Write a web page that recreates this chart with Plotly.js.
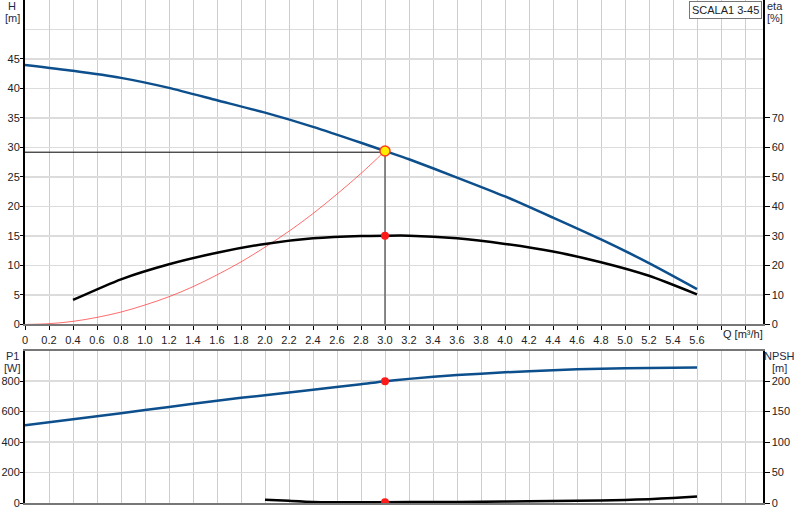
<!DOCTYPE html>
<html>
<head>
<meta charset="utf-8">
<script src="https://cdn.plot.ly/plotly-3.0.1.min.js"></script>
<style>html,body{margin:0;padding:0;background:#fff}#chart{width:800px;height:520px}</style>
</head>
<body>
<div id="chart"></div>
<script>
// ---- data ----
const qTickVals = [0,0.2,0.4,0.6,0.8,1.0,1.2,1.4,1.6,1.8,2.0,2.2,2.4,2.6,2.8,3.0,3.2,3.4,3.6,3.8,4.0,4.2,4.4,4.6,4.8,5.0,5.2,5.4,5.6,5.8,6.0];
const qTickText = ["0","0.2","0.4","0.6","0.8","1.0","1.2","1.4","1.6","1.8","2.0","2.2","2.4","2.6","2.8","3.0","3.2","3.4","3.6","3.8","4.0","4.2","4.4","4.6","4.8","5.0","5.2","5.4","5.6","",""];
const hTickVals = [0,5,10,15,20,25,30,35,40,45];
const etaTickVals = [0,10,20,30,40,50,60,70];
const p1TickVals = [0,200,400,600,800];
const npshTickVals = [0,50,100,150,200];

const qH   = [0,0.4,0.8,1.2,1.6,2.0,2.4,2.8,3.0,3.2,3.6,4.0,4.4,4.8,5.2,5.6];
const headH = [44.0,43.0,41.8,40.1,38.0,35.9,33.5,30.8,29.4,28.0,24.9,21.7,18.1,14.4,10.4,6.0];

const qEta = [0.4,0.8,1.2,1.6,2.0,2.4,2.8,3.0,3.2,3.6,4.0,4.4,4.8,5.2,5.6];
const eta  = [8.3,15.3,20.4,24.3,27.3,29.2,30.0,30.1,30.1,29.2,27.3,24.7,21.1,16.5,10.2];

const qSys = [0,0.2,0.4,0.6,0.8,1.0,1.2,1.4,1.6,1.8,2.0,2.2,2.4,2.6,2.8,3.0];
const hSys = [0,0.13,0.52,1.2,2.1,3.3,4.7,6.4,8.4,10.6,13.1,15.8,18.8,22.1,25.6,29.4];

const qP1 = [0,0.4,0.8,1.2,1.6,2.0,2.4,2.8,3.0,3.2,3.6,4.0,4.4,4.8,5.2,5.6];
const p1  = [510,550,590,630,672,708,743,780,800,815,840,858,872,882,887,889];

const qNpsh = [2.0,2.2,2.4,2.6,2.8,3.0,3.4,3.8,4.2,4.6,5.0,5.2,5.4,5.6];
const npsh  = [5.5,3.5,1.8,1.4,1.3,1.3,1.6,2.0,2.7,3.6,5.0,6.3,8.2,10.7];

const opQ = 3.0, opH = 29.4, opEta = 30.1, opP1 = 800, opNpsh = 1.3;
const pumpName = "SCALA1 3-45";

// ---- styling ----
const blue = "#0c4f8c";
const txt = "#222222";
const lab = "#1e2a44";
const fontFam = "Liberation Sans, Arial, sans-serif";

const traces = [
  {x: qSys, y: hSys, xaxis:"x", yaxis:"y", mode:"lines", line:{color:"rgba(255,60,60,0.75)", width:1, shape:"spline"}},
  {x: [0, opQ], y: [opH-0.2, opH-0.2], xaxis:"x", yaxis:"y", mode:"lines", line:{color:"#000", width:1}},
  {x: [opQ, opQ], y: [opH, 0], xaxis:"x", yaxis:"y", mode:"lines", line:{color:"#666", width:1.5}},
  {x: qH, y: headH, xaxis:"x", yaxis:"y", mode:"lines", line:{color:blue, width:2.5, shape:"spline", smoothing:0.6}},
  {x: qEta, y: eta, xaxis:"x", yaxis:"y2", mode:"lines", line:{color:"#000", width:2.5, shape:"spline", smoothing:0.6}},
  {x: [opQ], y: [opEta], xaxis:"x", yaxis:"y2", mode:"markers", marker:{color:"#ff1a1a", size:8}},
  {x: [opQ], y: [opH], xaxis:"x", yaxis:"y", mode:"markers", marker:{color:"#ffee00", size:10, line:{color:"#ff3b1a", width:1.5}}},
  {x: qP1, y: p1, xaxis:"x2", yaxis:"y3", mode:"lines", line:{color:blue, width:2.5, shape:"spline", smoothing:0.6}},
  {x: qNpsh, y: npsh, xaxis:"x2", yaxis:"y4", mode:"lines", line:{color:"#000", width:2.5, shape:"spline", smoothing:0.6}},
  {x: [opQ], y: [opP1], xaxis:"x2", yaxis:"y3", mode:"markers", marker:{color:"#ff1a1a", size:8}},
  {x: [opQ], y: [opNpsh], xaxis:"x2", yaxis:"y4", mode:"markers", marker:{color:"#ff1a1a", size:8}}
];

const topBottom = 0.355, botTop = 0.3028;
const gridX = "#cdcdcd", gridY = "#dcdcdc";

function lbl(x, y, ys, text, anchor) {
  return {xref:"paper", yref:"paper", x:x, y:y, xanchor:anchor, yanchor:"middle", yshift:ys,
          text:text, showarrow:false, font:{size:11, color:lab}};
}

const layout = {
  width: 800, height: 520,
  margin: {l:25, r:37, t:0, b:17, pad:0},
  paper_bgcolor: "#fff", plot_bgcolor: "#fff",
  showlegend: false,
  font: {family: fontFam, size: 11, color: txt},
  xaxis: {
    domain:[0,1], anchor:"y", range:[0,6.15], tickmode:"array", tickvals:qTickVals, ticktext:qTickText,
    showgrid:true, gridcolor:gridX, gridwidth:1, zeroline:false,
    showline:true, linecolor:"#777", linewidth:2, mirror:true,
    ticks:"outside", ticklen:4, tickcolor:"#000", tickfont:{size:11, color:txt}
  },
  yaxis: {
    domain:[topBottom,1], anchor:"x", range:[0,55], tickmode:"array", tickvals:hTickVals,
    showgrid:true, gridcolor:gridY, gridwidth:1.5, zeroline:false,
    minor:{tickmode:"linear", tick0:0, dtick:5, showgrid:true, gridcolor:gridY, gridwidth:1.5, ticklen:0},
    showline:true, linecolor:"#000", linewidth:2,
    ticks:"outside", ticklen:3, tickcolor:"#000", ticklabelstandoff:-2, tickfont:{size:11, color:txt}
  },
  yaxis2: {
    overlaying:"y", side:"right", anchor:"x", range:[0,110], tickmode:"array", tickvals:etaTickVals,
    showgrid:false, zeroline:false, showline:true, linecolor:"#000", linewidth:1.5,
    ticks:"outside", ticklen:5, tickcolor:"#000", tickfont:{size:11, color:txt}
  },
  xaxis2: {
    domain:[0,1], anchor:"y3", range:[0,6.15], tickmode:"array", tickvals:qTickVals, showticklabels:false,
    showgrid:true, gridcolor:gridX, gridwidth:1, zeroline:false,
    showline:true, linecolor:"#777", linewidth:2, mirror:true, ticks:""
  },
  yaxis3: {
    domain:[0,botTop], anchor:"x2", range:[0,1000], tickmode:"array", tickvals:p1TickVals,
    showgrid:true, gridcolor:gridY, gridwidth:1.5, zeroline:false,
    showline:true, linecolor:"#000", linewidth:2,
    ticks:"outside", ticklen:3, tickcolor:"#000", ticklabelstandoff:-2, tickfont:{size:11, color:txt}
  },
  yaxis4: {
    overlaying:"y3", side:"right", anchor:"x2", range:[0,250], tickmode:"array", tickvals:npshTickVals,
    showgrid:false, zeroline:false, showline:true, linecolor:"#000", linewidth:1.5,
    ticks:"outside", ticklen:5, tickcolor:"#000", tickfont:{size:11, color:txt}
  },
  annotations: [
    lbl(-0.0176, 1, -6, "H", "center"),
    lbl(-0.0176, 1, -18, "[m]", "center"),
    lbl(1.003, 1, -6, "eta", "left"),
    lbl(1.003, 1, -18, "[%]", "left"),
    lbl(-0.0176, botTop, -5, "P1", "center"),
    lbl(-0.0176, botTop, -17, "[W]", "center"),
    lbl(1.0217, botTop, -5, "NPSH", "center"),
    lbl(1.0217, botTop, -17, "[m]", "center"),
    {xref:"x", yref:"paper", x:5.98, y:topBottom, xanchor:"center", yanchor:"top", yshift:-2, text:"Q [m³/h]", showarrow:false, font:{size:11, color:txt}},
    {xref:"paper", yref:"paper", x:0.9985, y:0.9985, xanchor:"right", yanchor:"top", text:pumpName, showarrow:false,
     bgcolor:"#fff", bordercolor:"#777", borderwidth:1, borderpad:2, font:{size:11, color:txt}}
  ]
};

Plotly.newPlot("chart", traces, layout, {staticPlot:true, displayModeBar:false});
</script>
</body>
</html>
